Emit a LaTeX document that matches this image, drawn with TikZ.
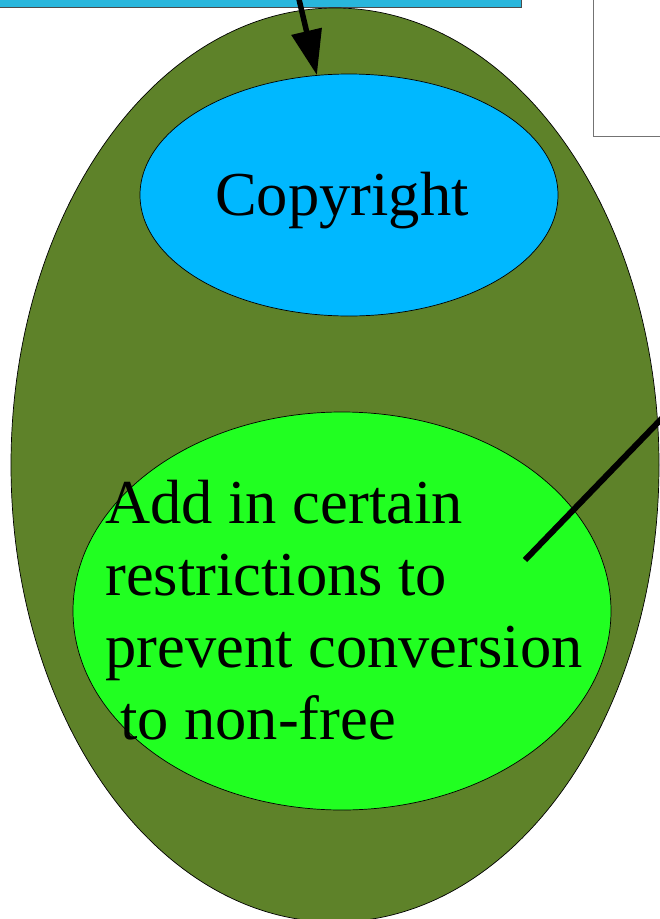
\documentclass[tikz,border=0pt]{standalone}
\usepackage{fontspec}
\setmainfont{Liberation Serif}
\usetikzlibrary{shapes.geometric,arrows.meta}
\definecolor{boxblue}{RGB}{41,182,220}
\definecolor{cyanfill}{RGB}{0,184,255}
\definecolor{olivefill}{RGB}{94,130,41}
\definecolor{brightgreen}{RGB}{33,255,33}
\tikzset{
  oval/.style={ellipse, draw=black, line width=0.7pt, inner sep=0pt},
  bigtext/.style={font=\fontsize{62.5}{72}\selectfont, inner sep=0pt, text=black},
  thickline/.style={line width=6pt, black},
}
\begin{document}
\begin{tikzpicture}[x=1pt,y=-1pt]
\useasboundingbox (0,0) rectangle (660,919);
\clip (0,0) rectangle (660,919);
% boxes partly outside
\node[draw=black!70, fill=boxblue, line width=0.8pt, minimum width=540pt, minimum height=30pt, inner sep=0pt, anchor=south east] (topbox) at (521.5,7.5) {};
\node[draw=black!55, fill=white, line width=0.8pt, minimum width=100pt, minimum height=160pt, inner sep=0pt, anchor=south west] (rightbox) at (593,136.5) {};
% ellipses
\node[oval, fill=olivefill, minimum width=648pt, minimum height=914pt] (outer) at (335,465) {};
\node[oval, fill=cyanfill, minimum width=418pt, minimum height=242pt] (copy) at (349,195) {};
\node[oval, fill=brightgreen, minimum width=538pt, minimum height=398pt] (restr) at (342,611) {};
% texts
\node[bigtext, anchor=base] (copytext) at (342,215) {Copyright};
\node[bigtext, align=left, anchor=north west] (restrtext) at (105,480) {Add in certain\\restrictions to\\prevent conversion\\\hspace{15pt}to non-free};
% connectors
\coordinate (arrowstart) at (298,-5);
\draw[thickline, line width=5.5pt, -{Triangle[length=45pt,width=30pt]}] (arrowstart) -- (copy.105);
\coordinate (lineend) at (670,410);
\coordinate (linestart) at (525,560);
\draw[thickline] (linestart) -- (lineend);
\end{tikzpicture}
\end{document}
